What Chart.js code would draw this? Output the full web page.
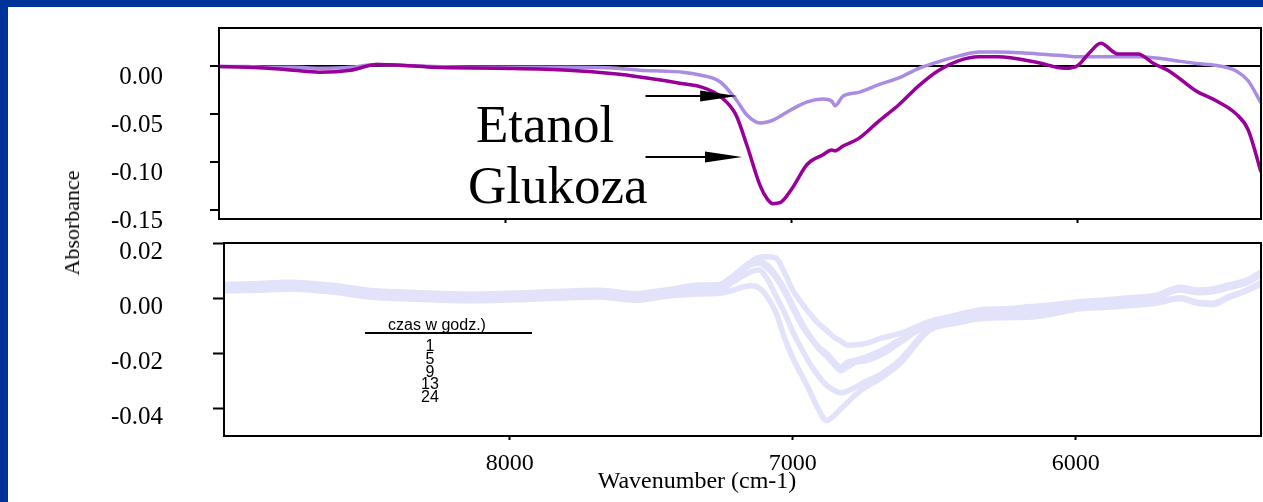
<!DOCTYPE html>
<html>
<head>
<meta charset="utf-8">
<script src="https://cdn.jsdelivr.net/npm/chart.js@4.4.1/dist/chart.umd.min.js"></script>
<style>
  html, body { margin: 0; padding: 0; background: #fff; }
  #page { position: relative; width: 1263px; height: 502px; overflow: hidden; background: #fff; }
  #barTop { position: absolute; left: 0; top: 0; width: 1263px; height: 7px; background: #003399; }
  #barLeft { position: absolute; left: 0; top: 0; width: 8px; height: 502px; background: #003399; }
  #c1 { position: absolute; left: 0; top: 0; }
  #c2 { position: absolute; left: 0; top: 240px; }
  #yTitle {
    position: absolute; left: 72px; top: 223px;
    transform: translate(-50%, -50%) rotate(-90deg);
    font: 22px "Liberation Serif", "Times New Roman", serif; color: #000; white-space: nowrap;
  }
</style>
</head>
<body>
<div id="page">
  <div id="barTop"></div>
  <div id="barLeft"></div>
  <canvas id="c1" width="1263" height="240"></canvas>
  <canvas id="c2" width="1263" height="262"></canvas>
  <div id="yTitle">Absorbance</div>
</div>
<script>
// ---- upper panel: difference spectra of ethanol and glucose ----
const topWavenumbers = [9000, 8900, 8830, 8740, 8650, 8540, 8450, 8350, 8250, 8020,
  7780, 7610, 7530, 7440, 7380, 7320, 7250, 7195, 7155, 7110,
  7085, 7065, 7040, 7000, 6945, 6890, 6860, 6848, 6820, 6765,
  6695, 6625, 6555, 6485, 6415, 6345, 6280, 6140, 6045, 6000,
  5960, 5920, 5860, 5790, 5735, 5680, 5585, 5515, 5445, 5405, 5360];
const glukoza = [0.000, -0.001, -0.002, -0.004, -0.006, -0.004, 0.002, 0.001, -0.001, -0.002,
  -0.004, -0.008, -0.011, -0.015, -0.018, -0.021, -0.031, -0.050, -0.083, -0.124,
  -0.138, -0.143, -0.142, -0.128, -0.102, -0.092, -0.087, -0.088, -0.083, -0.075,
  -0.057, -0.040, -0.020, -0.004, 0.006, 0.010, 0.010, 0.004, -0.002, 0.001,
  0.014, 0.024, 0.013, 0.013, 0.003, -0.005, -0.026, -0.036, -0.050, -0.066, -0.110];
const etanol = [0.000, 0.000, -0.001, -0.001, -0.002, -0.001, 0.002, 0.001, 0.000, -0.001,
  -0.001, -0.002, -0.004, -0.005, -0.006, -0.009, -0.016, -0.034, -0.051, -0.059,
  -0.058, -0.056, -0.052, -0.045, -0.037, -0.034, -0.036, -0.041, -0.031, -0.027,
  -0.019, -0.012, -0.002, 0.005, 0.011, 0.015, 0.015, 0.013, 0.011, 0.010,
  0.010, 0.010, 0.010, 0.010, 0.009, 0.007, 0.003, 0.001, -0.005, -0.015, -0.038];
const topYTicks = [-0.15, -0.10, -0.05, 0.00];

// ---- lower panel: spectra after successive hours of fermentation ----
const bottomWavenumbers = [9010, 8900, 8780, 8620, 8500, 8330, 8150, 7920, 7680, 7560, 7440, 7330,
  7260, 7210, 7150, 7120, 7090, 7060, 7030, 7000, 6970, 6940, 6910, 6880, 6855, 6830, 6805, 6780, 6740, 6690, 6620,
  6520, 6420, 6340, 6250, 6160, 6070, 5985, 5900, 5810, 5720, 5630, 5570, 5515, 5460, 5395, 5345];
const hours = ['1', '5', '9', '13', '24'];
const h1 = [0.0050, 0.0053, 0.0058, 0.0046, 0.0029, 0.0021, 0.0015, 0.0021, 0.0029, 0.0017, 0.0032, 0.0048,
  0.0050, 0.0082, 0.0130, 0.0148, 0.0150, 0.0146, 0.0095, 0.0030, -0.0015, -0.0055, -0.0090, -0.0116, -0.0140, -0.0155, -0.0170, -0.0168, -0.0163, -0.0145, -0.0127,
  -0.0085, -0.0060, -0.0042, -0.0038, -0.0030, -0.0022, -0.0012, -0.0006, 0.0002, 0.0010, 0.0040, 0.0030, 0.0034, 0.0048, 0.0066, 0.0095];
const h5 = [0.0044, 0.0047, 0.0052, 0.0040, 0.0023, 0.0015, 0.0009, 0.0015, 0.0023, 0.0011, 0.0026, 0.0042,
  0.0044, 0.0076, 0.0120, 0.0128, 0.0110, 0.0075, 0.0025, -0.0035, -0.0095, -0.0140, -0.0180, -0.0210, -0.0238, -0.0262, -0.0248, -0.0232, -0.0225, -0.0205, -0.0160,
  -0.0092, -0.0066, -0.0048, -0.0042, -0.0034, -0.0026, -0.0016, -0.0010, -0.0002, 0.0006, 0.0036, 0.0026, 0.0030, 0.0044, 0.0062, 0.0090];
const h9 = [0.0038, 0.0041, 0.0046, 0.0034, 0.0017, 0.0009, 0.0003, 0.0009, 0.0017, 0.0005, 0.0020, 0.0036,
  0.0042, 0.0078, 0.0125, 0.0135, 0.0120, 0.0085, 0.0035, -0.0025, -0.0085, -0.0135, -0.0175, -0.0200, -0.0228, -0.0248, -0.0230, -0.0225, -0.0212, -0.0190, -0.0150,
  -0.0100, -0.0072, -0.0055, -0.0050, -0.0045, -0.0035, -0.0022, -0.0016, -0.0010, 0.0000, 0.0030, 0.0020, 0.0024, 0.0038, 0.0056, 0.0085];
const h13 = [0.0032, 0.0035, 0.0040, 0.0028, 0.0011, 0.0003, -0.0003, 0.0003, 0.0011, -0.0001, 0.0014, 0.0028,
  0.0030, 0.0060, 0.0095, 0.0102, 0.0070, 0.0010, -0.0050, -0.0120, -0.0180, -0.0235, -0.0280, -0.0315, -0.0332, -0.0342, -0.0335, -0.0322, -0.0300, -0.0275, -0.0222,
  -0.0110, -0.0085, -0.0068, -0.0066, -0.0064, -0.0050, -0.0034, -0.0030, -0.0024, -0.0014, 0.0002, -0.0014, -0.0018, 0.0006, 0.0030, 0.0056];
const h24 = [0.0026, 0.0029, 0.0034, 0.0022, 0.0005, -0.0003, -0.0009, -0.0003, 0.0005, -0.0007, 0.0008, 0.0016,
  0.0018, 0.0030, 0.0045, 0.0038, 0.0005, -0.0050, -0.0140, -0.0215, -0.0275, -0.0335, -0.0400, -0.0442, -0.0425, -0.0400, -0.0375, -0.0350, -0.0320, -0.0290, -0.0235,
  -0.0118, -0.0090, -0.0074, -0.0070, -0.0068, -0.0054, -0.0038, -0.0033, -0.0027, -0.0018, -0.0002, -0.0018, -0.0022, 0.0002, 0.0027, 0.0052];
const bottomYTicks = [-0.04, -0.02, 0.00, 0.02];
const xTicks = [8000, 7000, 6000];
const legendTitle = 'czas w godz.)';
const xTitle = 'Wavenumber (cm-1)';

const SERIF = '"Liberation Serif", "Times New Roman", serif';
const SANS = '"Liberation Sans", Arial, sans-serif';

const toPoints = (xs, ys) => xs.map((x, i) => ({ x, y: ys[i] }));
const fixedTicks = values => scale => { scale.ticks = values.map(v => ({ value: v })); };
// keep the plotting box where it is regardless of label sizes
const fixWidth = w => s => { s.width = w; s.paddingTop = 0; s.paddingBottom = 0; };
const fixHeight = h => s => { s.height = h; s.paddingLeft = 0; s.paddingRight = 0; };

// closed rectangle around the plotting area
const frame = {
  id: 'frame',
  afterDraw(chart) {
    const { ctx, chartArea: a } = chart;
    ctx.save();
    ctx.strokeStyle = '#000';
    ctx.lineWidth = 2;
    ctx.strokeRect(a.left, a.top, a.right - a.left, a.bottom - a.top);
    ctx.restore();
  }
};

// big captions with arrows pointing at the two curves
const callouts = {
  id: 'callouts',
  afterDraw(chart) {
    const { ctx, scales: { x, y } } = chart;
    ctx.save();
    ctx.fillStyle = '#000';
    ctx.strokeStyle = '#000';
    ctx.font = '53px ' + SERIF;
    ctx.textAlign = 'center';
    ctx.textBaseline = 'alphabetic';
    chart.options.plugins.callouts.items.forEach(it => {
      const label = chart.data.datasets[it.dataset].label;
      ctx.fillText(label, x.getPixelForValue(it.textAt[0]), y.getPixelForValue(it.textAt[1]));
      const x0 = x.getPixelForValue(it.tail), x1 = x.getPixelForValue(it.tip);
      const yy = Math.round(y.getPixelForValue(it.level));
      ctx.lineWidth = 2;
      ctx.beginPath();
      ctx.moveTo(x0, yy);
      ctx.lineTo(x1 - 30, yy);
      ctx.stroke();
      ctx.beginPath();
      ctx.moveTo(x1, yy);
      ctx.lineTo(x1 - 37, yy - 5.5);
      ctx.lineTo(x1 - 37, yy + 5.5);
      ctx.closePath();
      ctx.fill();
    });
    ctx.restore();
  }
};

// small key listing the sampling times, plus the axis caption
const timeKey = {
  id: 'timeKey',
  afterDraw(chart) {
    const { ctx } = chart;
    ctx.save();
    ctx.fillStyle = '#000';
    ctx.strokeStyle = '#000';
    ctx.font = '16px ' + SANS;
    ctx.textAlign = 'center';
    ctx.textBaseline = 'alphabetic';
    ctx.fillText(legendTitle, 437, 90);
    ctx.lineWidth = 2;
    ctx.beginPath();
    ctx.moveTo(365, 93);
    ctx.lineTo(532, 93);
    ctx.stroke();
    chart.data.datasets.forEach((d, i) => ctx.fillText(d.label, 430, 111 + i * 12.75));
    ctx.font = '24px ' + SERIF;
    ctx.textBaseline = 'middle';
    ctx.fillText(xTitle, 697, 242);
    ctx.restore();
  }
};

Chart.defaults.animation = false;

new Chart(document.getElementById('c1'), {
  type: 'line',
  data: {
    datasets: [
      { label: 'Glukoza', data: toPoints(topWavenumbers, glukoza), borderColor: '#990099', borderWidth: 3.5 },
      { label: 'Etanol', data: toPoints(topWavenumbers, etanol), borderColor: '#aa8ce2', borderWidth: 3.5 }
    ]
  },
  options: {
    responsive: false,
    parsing: false,
    layout: { padding: { left: 0, right: 2, top: 28, bottom: 0 } },
    elements: {
      point: { radius: 0 },
      line: { cubicInterpolationMode: 'monotone', fill: false }
    },
    scales: {
      x: {
        type: 'linear', reverse: true, min: 5360, max: 9000,
        afterBuildTicks: fixedTicks(xTicks),
        afterFit: fixHeight(21),
        ticks: { display: false },
        grid: { drawOnChartArea: false, tickLength: 4, tickWidth: 2, tickColor: '#000' },
        border: { color: '#000', width: 2 }
      },
      y: {
        type: 'linear', min: -0.159, max: 0.04, z: 1,
        afterBuildTicks: fixedTicks(topYTicks),
        afterFit: fixWidth(219),
        ticks: {
          color: '#000', padding: 47, labelOffset: 11,
          font: { family: SERIF, size: 25 },
          callback: v => v.toFixed(2)
        },
        grid: {
          tickLength: 9, tickWidth: 2, tickColor: '#000', lineWidth: 2,
          color: c => (c.tick && c.tick.value === 0 ? '#000' : 'rgba(0,0,0,0)')
        },
        border: { color: '#000', width: 2 }
      }
    },
    plugins: {
      legend: { display: false },
      tooltip: { enabled: false },
      callouts: {
        items: [
          { dataset: 1, textAt: [7861, -0.079], tail: 7510, tip: 7190, level: -0.031 },
          { dataset: 0, textAt: [7817, -0.1427], tail: 7510, tip: 7173, level: -0.094 }
        ]
      }
    }
  },
  plugins: [frame, callouts]
});

const lavender = '#e2e2fa';
const hourSeries = [h1, h5, h9, h13, h24];

new Chart(document.getElementById('c2'), {
  type: 'line',
  data: {
    datasets: hourSeries.map((vals, i) => ({
      label: hours[i],
      data: toPoints(bottomWavenumbers, vals),
      borderColor: lavender,
      borderWidth: 5.5
    }))
  },
  options: {
    responsive: false,
    parsing: false,
    layout: { padding: { left: 0, right: 2, top: 3, bottom: 0 } },
    elements: {
      point: { radius: 0 },
      line: { cubicInterpolationMode: 'monotone', fill: false }
    },
    scales: {
      x: {
        type: 'linear', reverse: true, min: 5345, max: 9010,
        afterBuildTicks: fixedTicks(xTicks),
        afterFit: fixHeight(66),
        ticks: {
          color: '#000', padding: 9, maxRotation: 0,
          font: { family: SERIF, size: 24 },
          callback: v => String(v)
        },
        grid: { drawOnChartArea: false, tickLength: 4, tickWidth: 2, tickColor: '#000' },
        border: { color: '#000', width: 2 }
      },
      y: {
        type: 'linear', min: -0.0498, max: 0.02,
        afterBuildTicks: fixedTicks(bottomYTicks),
        afterFit: fixWidth(224),
        ticks: {
          color: '#000', padding: 50, labelOffset: 9,
          font: { family: SERIF, size: 25 },
          callback: v => v.toFixed(2)
        },
        grid: { drawOnChartArea: false, tickLength: 11, tickWidth: 2, tickColor: '#000' },
        border: { color: '#000', width: 2 }
      }
    },
    plugins: { legend: { display: false }, tooltip: { enabled: false } }
  },
  plugins: [frame, timeKey]
});
</script>
</body>
</html>
